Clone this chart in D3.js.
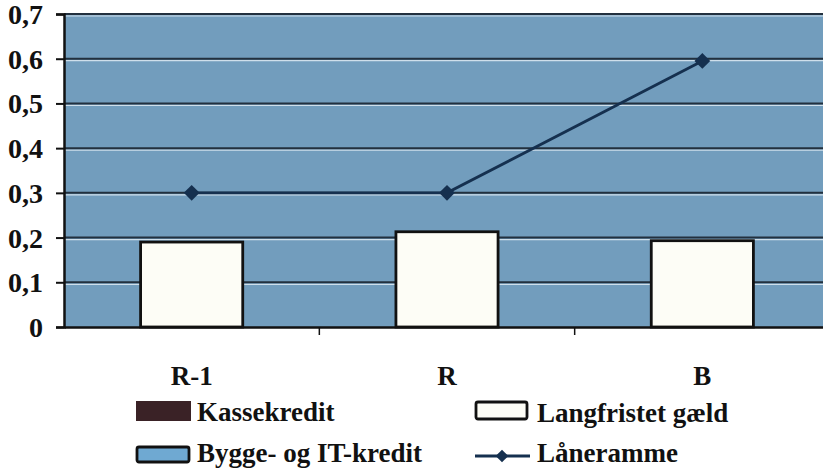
<!DOCTYPE html>
<html>
<head>
<meta charset="utf-8">
<script src="https://cdn.jsdelivr.net/npm/d3@7"></script>
<style>
  html, body { margin: 0; padding: 0; background: #fff; }
  svg text { font-family: "Liberation Serif", "DejaVu Serif", serif; font-weight: bold; fill: #111; }
</style>
</head>
<body>
<div id="app"></div>
<script>
// data
const categories = ['R-1', 'R', 'B'];
const langfristet = [0.19, 0.213, 0.193];
const laaneramme = [0.3, 0.3, 0.595];
const yTicks = [0, 0.1, 0.2, 0.3, 0.4, 0.5, 0.6, 0.7];
const legendItems = ['Kassekredit', 'Langfristet gæld', 'Bygge- og IT-kredit', 'Låneramme'];

const W = 823, H = 470;
const margin = { top: 14, right: -7, bottom: 143, left: 64 };
const width = W - margin.left - margin.right,
	height = H - margin.top - margin.bottom;

const svg = d3.select('#app').append('svg')
	.attr('width', W)
	.attr('height', H);
const g = svg.append('g')
	.attr('transform', `translate(${margin.left},${margin.top})`);

const x = d3.scaleBand().domain(categories).range([0, width]);
const y = d3.scaleLinear().domain([0, 0.7]).range([height, 0]);

// plot background
g.append('rect')
	.attr('width', W - margin.left)
	.attr('height', height)
	.attr('fill', '#729dbd');

// gridlines: dark line with a light scan highlight under it
yTicks.slice(1).forEach(t => {
	g.append('line')
		.attr('x1', 0).attr('x2', W)
		.attr('y1', y(t) + 2).attr('y2', y(t) + 2)
		.attr('stroke', '#cfdfeb').attr('stroke-width', 1.2);
	g.append('line')
		.attr('x1', 0).attr('x2', W)
		.attr('y1', y(t)).attr('y2', y(t))
		.attr('stroke', '#22303e').attr('stroke-width', 2);
});

// y axis
const yAxis = g.append('g')
	.call(d3.axisLeft(y).tickValues(yTicks).tickSize(8).tickPadding(13)
		.tickFormat(d => d3.format('.1f')(d).replace('.', ',')));
yAxis.select('.domain').attr('stroke', '#111').attr('stroke-width', 2.5);
yAxis.selectAll('.tick line').attr('stroke', '#111').attr('stroke-width', 2);
yAxis.selectAll('.tick text')
	.style('font-size', '28px')
	.attr('dy', '0.34em');
yAxis.selectAll('.tick').filter(d => d === 0).select('text').text('0');

// x axis
const xAxis = g.append('g')
	.attr('transform', `translate(0,${height})`)
	.call(d3.axisBottom(x).tickSize(0).tickPadding(0));
xAxis.select('.domain').attr('stroke', '#111').attr('stroke-width', 2.5);
xAxis.selectAll('.tick text')
	.style('font-size', '27px')
	.attr('dy', null)
	.attr('y', 58);
// category boundary ticks
categories.slice(1).forEach(c => {
	g.append('line')
		.attr('x1', x(c)).attr('x2', x(c))
		.attr('y1', height).attr('y2', height + 8)
		.attr('stroke', '#111').attr('stroke-width', 1.5);
});

// bars
const bw = x.bandwidth() * 0.4;
g.selectAll('rect.bar')
	.data(langfristet)
	.enter().append('rect')
	.attr('class', 'bar')
	.attr('x', (d, i) => x(categories[i]) + x.bandwidth() / 2 - bw / 2)
	.attr('y', d => y(d))
	.attr('width', bw)
	.attr('height', d => height - y(d))
	.attr('fill', '#fdfdf6')
	.attr('stroke', '#111')
	.attr('stroke-width', 2.8);

// line
const line = d3.line()
	.x((d, i) => x(categories[i]) + x.bandwidth() / 2)
	.y(d => y(d));
g.append('path')
	.datum(laaneramme)
	.attr('d', line)
	.attr('fill', 'none')
	.attr('stroke', '#15304f')
	.attr('stroke-width', 2.8);

const diamond = d3.symbol().type(d3.symbolSquare).size(125);
g.selectAll('path.pt')
	.data(laaneramme)
	.enter().append('path')
	.attr('class', 'pt')
	.attr('d', diamond)
	.attr('transform', (d, i) => `translate(${x(categories[i]) + x.bandwidth() / 2},${y(d)}) rotate(45)`)
	.attr('fill', '#15304f');

// legend
const leg = svg.append('g');
const legPos = [
	{ x: 136, y: 421 },
	{ x: 475, y: 422 },
	{ x: 136, y: 462 },
	{ x: 475, y: 462 }
];
const legDiamond = d3.symbol().type(d3.symbolSquare).size(80);
legendItems.forEach((name, i) => {
	const p = legPos[i];
	const item = leg.append('g').attr('transform', `translate(${p.x},${p.y})`);
	if (i === 0) {
		item.append('rect').attr('x', 0).attr('y', -20).attr('width', 55).attr('height', 20)
			.attr('fill', '#3a2226');
	} else if (i === 1) {
		item.append('rect').attr('x', 1).attr('y', -20).attr('width', 51).attr('height', 17)
			.attr('fill', '#fdfdf6').attr('stroke', '#111').attr('stroke-width', 2.8).attr('rx', 2);
	} else if (i === 2) {
		item.append('rect').attr('x', 1).attr('y', -15).attr('width', 52).attr('height', 15)
			.attr('fill', '#6fa9d2').attr('stroke', '#111').attr('stroke-width', 2.8).attr('rx', 2);
	} else {
		item.append('line').attr('x1', 0).attr('x2', 55).attr('y1', -6).attr('y2', -6)
			.attr('stroke', '#15304f').attr('stroke-width', 2.8);
		item.append('path').attr('d', legDiamond)
			.attr('transform', 'translate(27,-6) rotate(45)').attr('fill', '#15304f');
	}
	item.append('text')
		.attr('x', i % 2 === 0 ? 61 : 62)
		.attr('y', 0)
		.style('font-size', '27px')
		.text(name);
});
</script>
</body>
</html>
